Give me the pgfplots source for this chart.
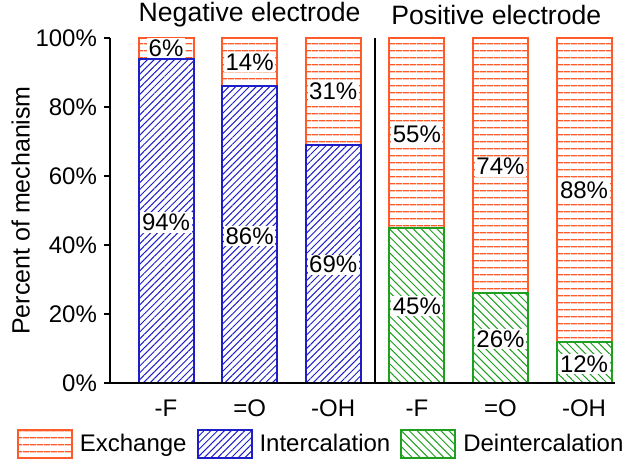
\documentclass[border=0pt]{standalone}
\usepackage{fontspec}
\setmainfont{Liberation Sans}
\usepackage{pgfplots}
\pgfplotsset{compat=1.18}
\usetikzlibrary{patterns.meta}

\definecolor{exch}{RGB}{255,90,40}
\definecolor{inter}{RGB}{30,30,200}
\definecolor{deint}{RGB}{30,160,30}

% one table per series; the unused half of each row is 0 so the stacks line up
\pgfplotstableread{
x val
0 94
1 86
2 69
3 0
4 0
5 0
}\intercal
\pgfplotstableread{
x val
0 0
1 0
2 0
3 45
4 26
5 12
}\deintercal
\pgfplotstableread{
x val
0 6
1 14
2 31
3 55
4 74
5 88
}\exchange

\tikzset{
  exchpat/.style={draw=exch, line width=1pt,
    pattern={Lines[angle=0, distance=3.35pt, line width=0.6pt]}, pattern color=exch},
  interpat/.style={draw=inter, line width=1pt,
    pattern={Lines[angle=45, distance=2.4pt, line width=0.5pt]}, pattern color=inter},
  deintpat/.style={draw=deint, line width=1pt,
    pattern={Lines[angle=-45, distance=2.8pt, line width=0.5pt]}, pattern color=deint},
  lab/.style={fill=white, inner sep=0.8pt, font=\fontsize{12}{14}\selectfont},
}

\begin{document}
\begin{tikzpicture}
\begin{axis}[
    at={(0,0)}, anchor=south west,
    scale only axis, width=252.5pt, height=172.5pt,
    axis on top,
    ybar stacked, bar width=27.5pt,
    xmin=-0.67, xmax=5.37, ymin=0, ymax=100,
    axis x line*=bottom, axis y line*=left,
    axis line style={line width=1pt},
    clip=false,
    xtick={0,...,5},
    xticklabels={-F,=O,-OH,-F,=O,-OH},
    x tick style={draw=none},
    x tick label style={yshift=-2pt},
    ytick={0,20,...,100},
    yticklabel={\pgfmathprintnumber{\tick}\%},
    tick align=outside, major tick length=3pt,
    y tick style={line width=1pt, black},
    /pgf/number format/assume math mode=true,
    tick label style={font=\fontsize{12}{14}\selectfont},
    ylabel={Percent of mechanism},
    ylabel shift=-4pt,
    ylabel style={font=\fontsize{12.5}{14}\selectfont},
    legend style={at={(0.42,-0.177)}, anchor=center, draw=none,
        font=\fontsize{12}{14}\selectfont, legend columns=3,
        /tikz/every odd column/.append style={column sep=1.5pt},
        /tikz/every even column/.append style={column sep=3pt}},
    legend image code/.code={\draw[#1] (0pt,-7pt) rectangle (27pt,7pt);},
]
\addplot[interpat, forget plot] table[x=x, y=val] {\intercal};
\addplot[deintpat, forget plot] table[x=x, y=val] {\deintercal};
\addplot[exchpat, forget plot] table[x=x, y=val] {\exchange};

\addlegendimage{exchpat}
\addlegendentry{Exchange}
\addlegendimage{interpat}
\addlegendentry{Intercalation}
\addlegendimage{deintpat}
\addlegendentry{Deintercalation}

% anchor points for the separator and the value labels (drawn after the axis)
\coordinate (s0) at (axis cs:2.5,0);
\coordinate (s1) at (axis cs:2.5,100);
\coordinate (a1) at (axis cs:0,97);
\coordinate (a2) at (axis cs:1,93);
\coordinate (a3) at (axis cs:2,84.5);
\coordinate (b1) at (axis cs:0,46.5);
\coordinate (b2) at (axis cs:1,42.5);
\coordinate (b3) at (axis cs:2,34.3);
\coordinate (c1) at (axis cs:3,72);
\coordinate (c2) at (axis cs:4,62.7);
\coordinate (c3) at (axis cs:5,56);
\coordinate (d1) at (axis cs:3,22.3);
\coordinate (d2) at (axis cs:4,12.7);
\coordinate (d3) at (axis cs:5,5.5);

\node[font=\fontsize{13.3}{15}\selectfont] at (axis cs:1,100) [yshift=11.5pt] {Negative electrode};
\node[font=\fontsize{13.3}{15}\selectfont] at (axis cs:3.95,100) [yshift=11.5pt] {Positive electrode};
\end{axis}
\draw[line width=1pt] (s0) -- (s1);
\node[lab] at (a1) {6\%};
\node[lab] at (a2) {14\%};
\node[lab] at (a3) {31\%};
\node[lab] at (b1) {94\%};
\node[lab] at (b2) {86\%};
\node[lab] at (b3) {69\%};
\node[lab] at (c1) {55\%};
\node[lab] at (c2) {74\%};
\node[lab] at (c3) {88\%};
\node[lab] at (d1) {45\%};
\node[lab] at (d2) {26\%};
\node[lab] at (d3) {12\%};
\pgfresetboundingbox
\path[use as bounding box] (-55pt,-41pt) rectangle (257pt,191.5pt);
\end{tikzpicture}
\end{document}
